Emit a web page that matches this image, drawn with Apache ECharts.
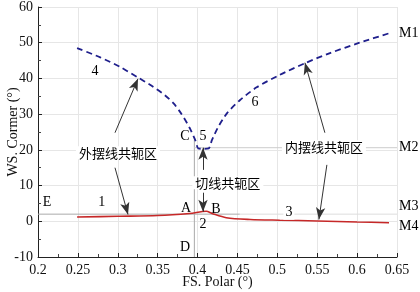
<!DOCTYPE html>
<html>
<head>
<meta charset="utf-8">
<script src="https://cdn.jsdelivr.net/npm/echarts@6/dist/echarts.min.js"></script>
<style>html,body{margin:0;padding:0;background:#fff}#c{width:420px;height:292px}</style>
</head>
<body>
<div id="c"></div>
<script>
// ---- data ----
var xTicks = [0.2, 0.25, 0.3, 0.35, 0.4, 0.45, 0.5, 0.55, 0.6, 0.65];
var yTicks = [-10, 0, 10, 20, 30, 40, 50, 60];
// blue dashed curve (conjugate envelope)
var blueX = [0.249, 0.278, 0.303, 0.325, 0.342, 0.359, 0.370, 0.380, 0.390, 0.397, 0.401, 0.407, 0.414, 0.418, 0.4256, 0.437, 0.453, 0.474, 0.503, 0.535, 0.566, 0.603, 0.641];
var blueY = [48.5, 45.9, 43.2, 40.3, 38.0, 35.3, 33.0, 30.0, 26.2, 22.8, 20.4, 20.3, 20.4, 22.7, 26.3, 30.3, 33.9, 37.5, 41.0, 44.3, 47.1, 50.0, 52.7];
// red solid curve
var redX = [0.249, 0.30, 0.35, 0.39, 0.411, 0.418, 0.436, 0.466, 0.503, 0.55, 0.60, 0.64];
var redY = [1.2, 1.4, 1.6, 2.2, 2.8, 2.2, 1.0, 0.5, 0.3, 0.1, -0.2, -0.4];
// reference lines
var lineD = [[0.396, -10], [0.396, 22.8]];
var lineM2 = [[0.396, 20.6], [0.65, 20.6]];
var lineE = [[0.2, 2], [0.453, 2]];
var lineM3 = [[0.453, 2], [0.65, 2]];
// arrows [from, to]
var arrows = [
  [[0.2965, 24.8], [0.3253, 39.9]],
  [[0.2965, 15.0], [0.3128, 1.9]],
  [[0.4068, 14.4], [0.4068, 20.6]],
  [[0.4068, 8.0], [0.4068, 2.7]],
  [[0.5596, 24.8], [0.5346, 44.4]],
  [[0.5621, 15.8], [0.5521, 0.5]]
];
// region labels
var zoneLabels = [
  [0.3002, 19.2, '外摆线共轭区'],
  [0.438, 10.8, '切线共轭区'],
  [0.5584, 20.9, '内摆线共轭区']
];
// point labels
var pointLabels = [
  [0.2714, 42.1, '4'], [0.4719, 33.2, '6'], [0.3842, 23.7, 'C'], [0.4068, 23.7, '5'],
  [0.3855, 3.5, 'A'], [0.423, 3.3, 'B'], [0.4068, -0.9, '2'], [0.3842, -7.3, 'D'],
  [0.2113, 5.2, 'E'], [0.280, 5.2, '1']
];
var labelsOnLine = [[0.5145, 2.4, '3']];
var sideLabels = [[0.65, 52.7, 'M1'], [0.65, 20.8, 'M2'], [0.65, 4.1, 'M3'], [0.65, -1.5, 'M4']];

function zip(xs, ys) { return xs.map(function (x, i) { return [x, ys[i]]; }); }
var serif = '"Liberation Serif","DejaVu Serif",serif';
var cjk = '"Noto Sans CJK SC",sans-serif';

function textSeries(data, extra) {
  var label = { show: true, position: 'inside', formatter: function (p) { return p.value[2]; },
    fontFamily: serif, fontSize: 14, color: '#000', opacity: 1 };
  for (var k in extra) label[k] = extra[k];
  return { type: 'scatter', data: data, symbolSize: 0, z: 6, clip: false, silent: true,
    itemStyle: { opacity: 1 }, label: label };
}

var chart = echarts.init(document.getElementById('c'));
chart.setOption({
  animation: false,
  backgroundColor: '#fff',
  grid: { left: 38, right: 23, top: 7, bottom: 35, containLabel: false, outerBoundsMode: 'none' },
  xAxis: {
    type: 'value', min: xTicks[0], max: xTicks[xTicks.length - 1], interval: 0.05,
    name: 'FS. Polar (°)', nameLocation: 'middle', nameGap: 18, nameMoveOverlap: false,
    nameTextStyle: { fontFamily: serif, fontSize: 14, color: '#111' },
    axisLine: { show: true, onZero: false, lineStyle: { color: '#222', width: 1 } },
    axisTick: { show: true, inside: true, length: 4, lineStyle: { color: '#222' } },
    minorTick: { show: true, splitNumber: 2, length: 3, lineStyle: { color: '#444' } },
    axisLabel: { fontFamily: serif, fontSize: 14, color: '#111', margin: 6 },
    splitLine: { show: true, lineStyle: { color: '#e6e6e6', width: 1 } }
  },
  yAxis: {
    type: 'value', min: yTicks[0], max: yTicks[yTicks.length - 1], interval: 10,
    name: 'WS. Cormer (°)', nameLocation: 'middle', nameGap: 18, nameMoveOverlap: false,
    nameTextStyle: { fontFamily: serif, fontSize: 14, color: '#111' },
    axisLine: { show: true, onZero: false, lineStyle: { color: '#222', width: 1 } },
    axisTick: { show: true, inside: true, length: 4, lineStyle: { color: '#222' } },
    minorTick: { show: true, splitNumber: 2, length: 3, lineStyle: { color: '#444' } },
    axisLabel: { fontFamily: serif, fontSize: 14, color: '#111', margin: 5 },
    splitLine: { show: true, lineStyle: { color: '#e6e6e6', width: 1 } }
  },
  series: [
    { type: 'line', data: lineD, symbol: 'none', lineStyle: { color: '#aaaaaa', width: 1 }, z: 2 },
    { type: 'line', data: lineM2, symbol: 'none', lineStyle: { color: '#cccccc', width: 1 }, z: 2 },
    { type: 'line', data: lineE, symbol: 'none', lineStyle: { color: '#aaaaaa', width: 1 }, z: 2 },
    { type: 'line', data: lineM3, symbol: 'none', lineStyle: { color: '#dddddd', width: 1 }, z: 2 },
    { type: 'line', data: zip(blueX, blueY), symbol: 'none', smooth: 0.25,
      lineStyle: { color: '#1f1f8c', width: 1.8, type: [6, 4] }, z: 3 },
    { type: 'line', data: zip(redX, redY), symbol: 'none', smooth: 0.3,
      lineStyle: { color: '#c62828', width: 1.6 }, z: 3 },
    { type: 'line', data: [], symbol: 'none', z: 5,
      markLine: {
        silent: true, symbol: ['none', 'arrow'], symbolSize: [7, 12], precision: 4,
        label: { show: false },
        lineStyle: { color: '#333', width: 1, type: 'solid' },
        data: arrows.map(function (a) { return [{ coord: a[0] }, { coord: a[1] }]; })
      }
    },
    textSeries(zoneLabels, { fontFamily: cjk, fontSize: 13, backgroundColor: '#fff', padding: [0, 3] }),
    textSeries(pointLabels, {}),
    textSeries(labelsOnLine, { backgroundColor: '#fff', padding: [0, 2] }),
    textSeries(sideLabels, { position: 'right', distance: 2 })
  ]
});
</script>
</body>
</html>
